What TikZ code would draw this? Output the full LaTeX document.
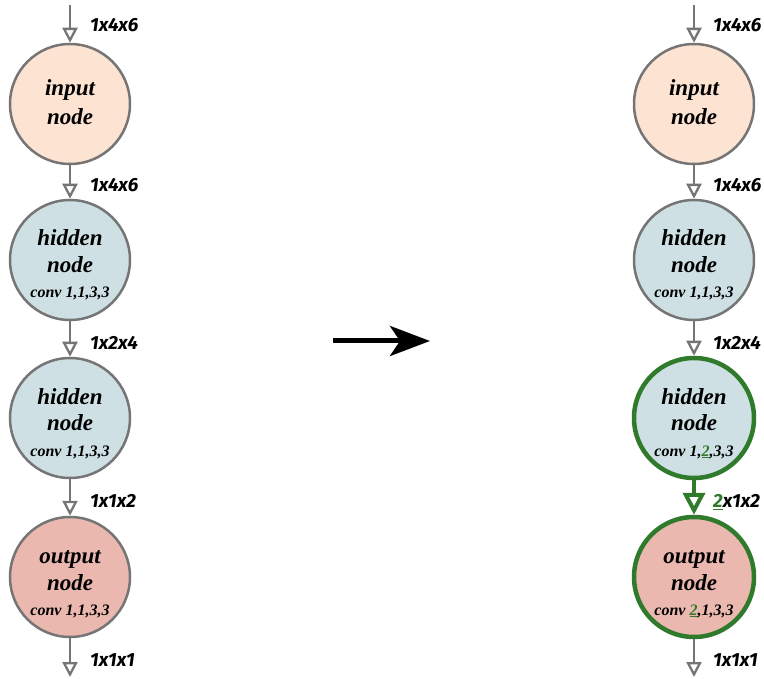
\documentclass[tikz,border=0pt]{standalone}
\usepackage{fontspec}
\setmainfont{Liberation Serif}
\newfontfamily\lblfont{Fira Sans}
\usetikzlibrary{arrows.meta,calc}
\definecolor{grayline}{RGB}{117,117,117}
\definecolor{ggreen}{RGB}{48,122,44}
\definecolor{inputfill}{RGB}{253,228,210}
\definecolor{hiddenfill}{RGB}{206,224,228}
\definecolor{outputfill}{RGB}{235,184,176}
\newcommand\gtwo{\textcolor{ggreen}{\underline{2}}}
\tikzset{
  circ/.style={circle, draw=grayline, line width=2.5pt, minimum size=120pt, inner sep=0pt},
  greencirc/.style={circ, draw=ggreen, line width=4.5pt},
  big/.style={inner sep=0pt, anchor=base, font=\fontsize{23}{26}\selectfont\bfseries\itshape},
  small/.style={inner sep=0pt, anchor=base, font=\fontsize{16}{18}\selectfont\bfseries\itshape},
  lbl/.style={inner sep=0pt, anchor=west, font=\lblfont\fontsize{19}{22}\selectfont\bfseries\itshape},
  flow/.style={draw=grayline, line width=2.3pt, -{Triangle[open, length=15pt, width=15pt]}},
  gflow/.style={draw=ggreen, line width=4pt, -{Triangle[open, length=22pt, width=22pt]}},
}
\begin{document}
\begin{tikzpicture}[x=1pt,y=-1pt]
\useasboundingbox (0,0) rectangle (764,679);
% ---------- left column ----------
\node[circ, fill=inputfill] (Li) at (70,104) {};
\node[big] (Lit1) at ($(Li)+(0,-8)$) {input};
\node[big] (Lit2) at ($(Li)+(0,21)$) {node};
\node[circ, fill=hiddenfill] (Lh1) at (70,260) {};
\node[big] (Lh1t1) at ($(Lh1)+(0,-14)$) {hidden};
\node[big] (Lh1t2) at ($(Lh1)+(0,13)$) {node};
\node[small] (Lh1t3) at ($(Lh1)+(0,38)$) {conv 1,1,3,3};
\node[circ, fill=hiddenfill] (Lh2) at (70,418) {};
\node[big] (Lh2t1) at ($(Lh2)+(0,-14)$) {hidden};
\node[big] (Lh2t2) at ($(Lh2)+(0,13)$) {node};
\node[small] (Lh2t3) at ($(Lh2)+(0,38)$) {conv 1,1,3,3};
\node[circ, fill=outputfill] (Lo) at (70,577) {};
\node[big] (Lot1) at ($(Lo)+(0,-14)$) {output};
\node[big] (Lot2) at ($(Lo)+(0,13)$) {node};
\node[small] (Lot3) at ($(Lo)+(0,38)$) {conv 1,1,3,3};
\coordinate (Ltop) at (70,5);
\coordinate (Lbot) at (70,677);
\draw[flow] (Ltop) -- (Li);
\draw[flow] (Li) -- (Lh1);
\draw[flow] (Lh1) -- (Lh2);
\draw[flow] (Lh2) -- (Lo);
\draw[flow] (Lo) -- (Lbot);
\node[lbl] (Ll1) at (90,25) {1x4x6};
\node[lbl] (Ll2) at (90,185) {1x4x6};
\node[lbl] (Ll3) at (90,343) {1x2x4};
\node[lbl] (Ll4) at (90,501) {1x1x2};
\node[lbl] (Ll5) at (90,660) {1x1x1};
% ---------- middle arrow ----------
\coordinate (ma) at (333,341);
\coordinate (mb) at (430,341);
\draw[line width=5pt, -{Stealth[length=40pt, width=30pt, inset=10pt]}] (ma) -- (mb);
% ---------- right column ----------
\node[circ, fill=inputfill] (Ri) at (694,104) {};
\node[big] (Rit1) at ($(Ri)+(0,-8)$) {input};
\node[big] (Rit2) at ($(Ri)+(0,21)$) {node};
\node[circ, fill=hiddenfill] (Rh1) at (694,260) {};
\node[big] (Rh1t1) at ($(Rh1)+(0,-14)$) {hidden};
\node[big] (Rh1t2) at ($(Rh1)+(0,13)$) {node};
\node[small] (Rh1t3) at ($(Rh1)+(0,38)$) {conv 1,1,3,3};
\node[greencirc, fill=hiddenfill] (Rh2) at (694,418) {};
\node[big] (Rh2t1) at ($(Rh2)+(0,-14)$) {hidden};
\node[big] (Rh2t2) at ($(Rh2)+(0,13)$) {node};
\node[small] (Rh2t3) at ($(Rh2)+(0,38)$) {conv 1,\gtwo,3,3};
\node[greencirc, fill=outputfill] (Ro) at (694,577) {};
\node[big] (Rot1) at ($(Ro)+(0,-14)$) {output};
\node[big] (Rot2) at ($(Ro)+(0,13)$) {node};
\node[small] (Rot3) at ($(Ro)+(0,38)$) {conv \gtwo,1,3,3};
\coordinate (Rtop) at (694,5);
\coordinate (Rbot) at (694,677);
\draw[flow] (Rtop) -- (Ri);
\draw[flow] (Ri) -- (Rh1);
\draw[flow] (Rh1) -- (Rh2);
\draw[gflow] (Rh2) -- (Ro);
\draw[flow] (Ro) -- (Rbot);
\node[lbl] (Rl1) at (713,25) {1x4x6};
\node[lbl] (Rl2) at (713,185) {1x4x6};
\node[lbl] (Rl3) at (713,343) {1x2x4};
\node[lbl] (Rl4) at (713,502) {\gtwo x1x2};
\node[lbl] (Rl5) at (713,660) {1x1x1};
\end{tikzpicture}
\end{document}
